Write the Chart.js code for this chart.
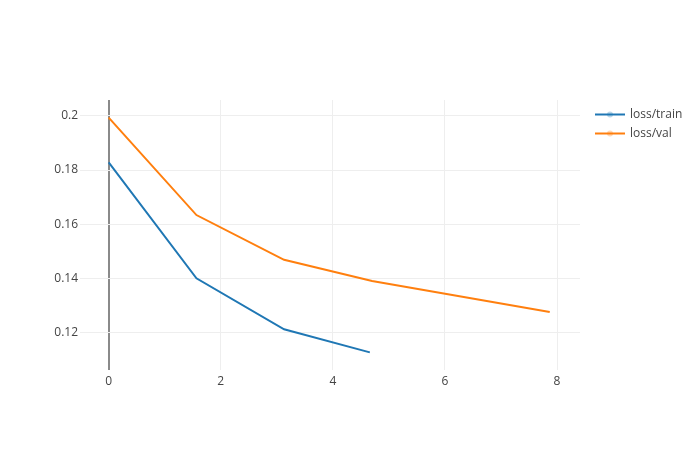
<!DOCTYPE html>
<html>
<head>
<meta charset="utf-8">
<script src="https://cdn.jsdelivr.net/npm/chart.js@4/dist/chart.umd.min.js"></script>
<style>
  html, body { margin: 0; padding: 0; background: #fff; }
  canvas { display: block; }
</style>
</head>
<body>
<canvas id="chart" width="700" height="450"></canvas>
<script>
const seriesNames = ['loss/train', 'loss/val'];
const seriesColors = ['#1f77b4', '#ff7f0e'];
const trainX = [0, 1.566, 3.13, 4.66];
const trainY = [0.1828, 0.1401, 0.1213, 0.1128];
const valX = [0, 1.566, 3.13, 4.70, 7.87];
const valY = [0.1993, 0.1634, 0.1469, 0.1391, 0.1277];
const xTicks = [0, 2, 4, 6, 8];
const yTicks = [0.12, 0.14, 0.16, 0.18, 0.2];
const xRange = [-0.512, 8.41];
const yRange = [0.1063, 0.2058];

const FONT = '"Open Sans", verdana, arial, sans-serif';

const toPoints = (xs, ys) => xs.map((x, i) => ({ x, y: ys[i] }));

// plotly-ish legend on the right
const legendPlugin = {
  id: 'sideLegend',
  afterDraw(chart) {
    const ctx = chart.ctx;
    ctx.save();
    chart.data.datasets.forEach((ds, i) => {
      const y = 114.5 + i * 19;
      ctx.strokeStyle = ds.borderColor;
      ctx.lineWidth = 2;
      ctx.beginPath();
      ctx.moveTo(595, y);
      ctx.lineTo(625, y);
      ctx.stroke();
      ctx.globalAlpha = 0.3;
      ctx.fillStyle = ds.borderColor;
      ctx.beginPath();
      ctx.arc(610, y, 3, 0, Math.PI * 2);
      ctx.fill();
      ctx.globalAlpha = 1;
      ctx.fillStyle = '#444';
      ctx.font = '12px ' + FONT;
      ctx.textBaseline = 'middle';
      ctx.textAlign = 'left';
      ctx.fillText(ds.label, 630, y + 0.5);
    });
    ctx.restore();
  }
};

new Chart(document.getElementById('chart'), {
  type: 'scatter',
  data: {
    datasets: [
      { label: seriesNames[0], data: toPoints(trainX, trainY) },
      { label: seriesNames[1], data: toPoints(valX, valY) },
    ].map((d, i) => ({
      ...d,
      showLine: true,
      borderColor: seriesColors[i],
      backgroundColor: seriesColors[i],
      borderWidth: 2,
      pointRadius: 0,
      pointHoverRadius: 0,
      tension: 0,
    }))
  },
  options: {
    responsive: false,
    animation: false,
    layout: { padding: { left: 0, right: 120, top: 100, bottom: 0 } },
    plugins: { legend: { display: false }, tooltip: { enabled: false } },
    scales: {
      x: {
        type: 'linear',
        min: xRange[0],
        max: xRange[1],
        afterBuildTicks: (s) => { s.ticks = xTicks.map(v => ({ value: v })); },
        afterFit: (s) => { s.height = 80; },
        border: { display: false },
        grid: {
          drawTicks: false,
          // zero line is a softer, wider grey
          lineWidth: (c) => c.tick && c.tick.value === 0 ? 2 : 1,
          color: (c) => c.tick && c.tick.value === 0 ? '#8a8a8a' : '#eeeeee',
        },
        ticks: {
          padding: 4,
          color: '#444',
          font: { family: FONT, size: 12 },
          maxRotation: 0,
          autoSkip: false,
          callback: (v) => String(v),
        },
      },
      y: {
        type: 'linear',
        min: yRange[0],
        max: yRange[1],
        afterBuildTicks: (s) => { s.ticks = yTicks.map(v => ({ value: v })); },
        afterFit: (s) => { s.width = 80; },
        border: { display: false },
        grid: { drawTicks: false, lineWidth: 1, color: '#eeeeee' },
        ticks: {
          padding: 2,
          color: '#444',
          font: { family: FONT, size: 12 },
          autoSkip: false,
          callback: (v) => String(+v.toFixed(4)),
        },
      },
    },
  },
  plugins: [legendPlugin],
});
</script>
</body>
</html>
